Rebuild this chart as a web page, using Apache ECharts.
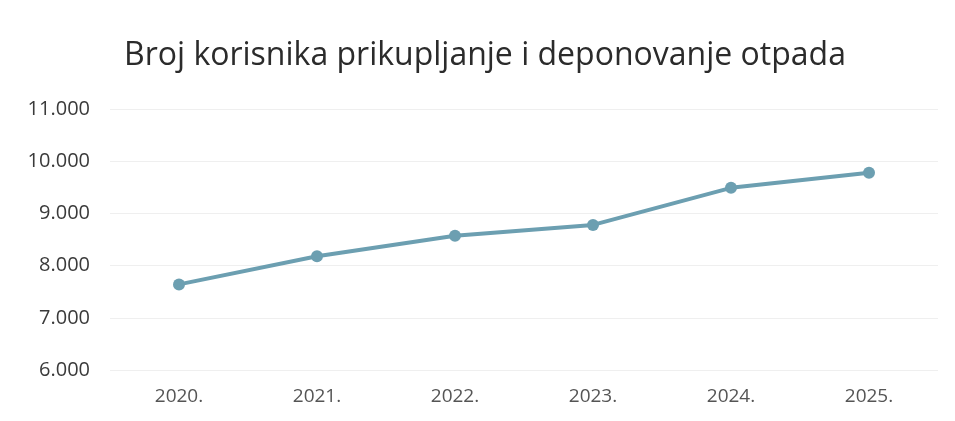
<!DOCTYPE html>
<html><head><meta charset="utf-8">
<script src="https://cdn.jsdelivr.net/npm/echarts@6/dist/echarts.min.js"></script>
<style>html,body{margin:0;padding:0;background:#fff}#c{width:955px;height:421px}</style>
</head><body><div id="c"></div>
<script>
const titleText = "Broj korisnika prikupljanje i deponovanje otpada";
const categories = ["2020.", "2021.", "2022.", "2023.", "2024.", "2025."];
const values = [7640, 8180, 8570, 8780, 9490, 9780];
const chart = echarts.init(document.getElementById('c'));
chart.setOption({
  animation: false,
  backgroundColor: '#ffffff',
  title: {
    text: titleText, left: 119, top: 35,
    textStyle: {fontFamily: 'Open Sans', fontSize: 32, fontWeight: 'normal', color: '#2b2b2b'}
  },
  grid: {left: 110, right: 17, top: 109, bottom: 51},
  xAxis: {
    type: 'category', data: categories, boundaryGap: true,
    axisLine: {show: false}, axisTick: {show: false},
    axisLabel: {fontFamily: 'Open Sans', fontSize: 19, color: '#555555', margin: 17}
  },
  yAxis: {
    type: 'value', min: 6000, max: 11000, interval: 1000,
    axisLine: {show: false}, axisTick: {show: false},
    splitLine: {lineStyle: {color: '#efefef', width: 1}},
    axisLabel: {fontFamily: 'Open Sans', fontSize: 20, color: '#3a3a3a', margin: 20,
      formatter: v => (v/1000).toFixed(3)}
  },
  series: [{
    type: 'line', data: values, symbol: 'circle', symbolSize: 12,
    lineStyle: {color: '#6c9fb1', width: 4},
    itemStyle: {color: '#6c9fb1'}
  }]
});
</script></body></html>
